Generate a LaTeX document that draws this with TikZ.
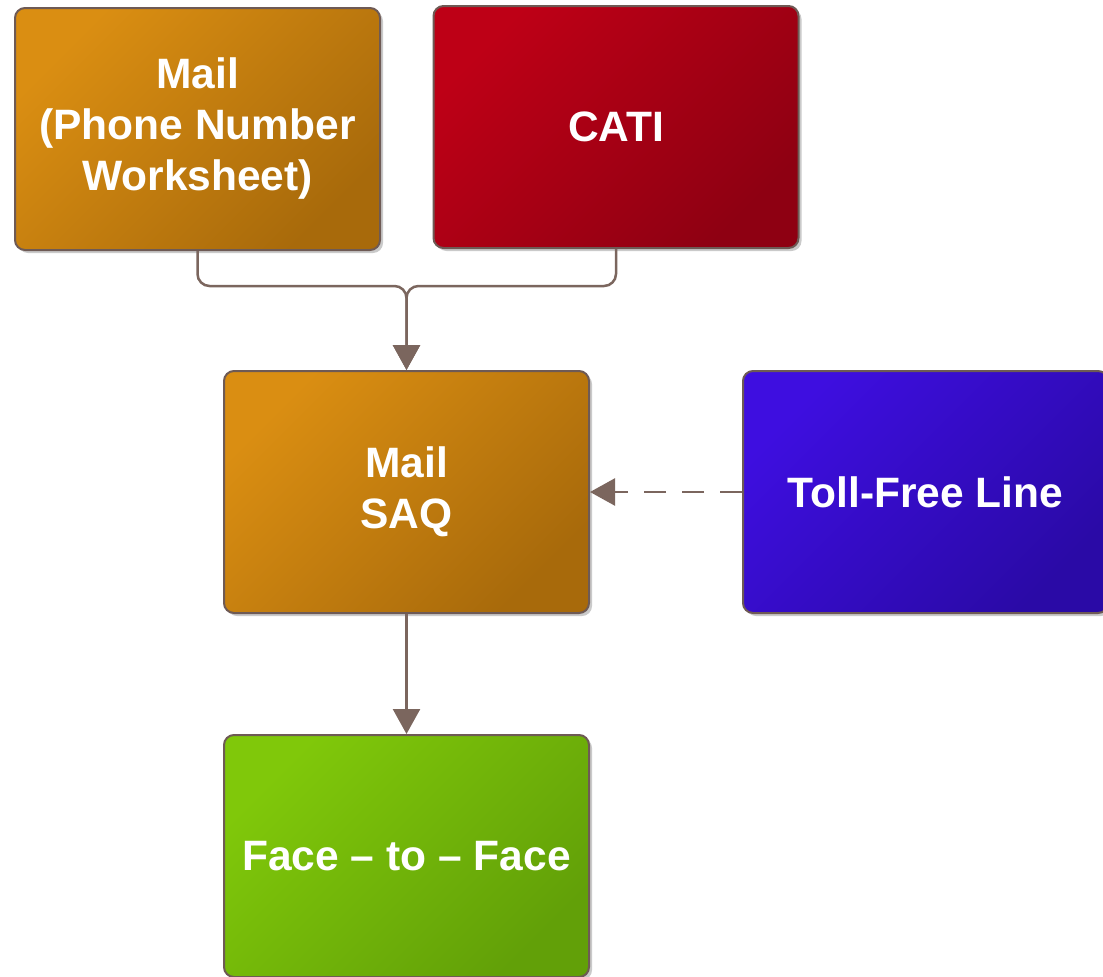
\documentclass[tikz,border=0pt]{standalone}
\usepackage{fontspec}
\setmainfont{Liberation Sans}
\usetikzlibrary{arrows.meta,shadows}
\definecolor{orL}{HTML}{DA8E12}
\definecolor{orD}{HTML}{A86A0B}
\definecolor{rdL}{HTML}{BE0016}
\definecolor{rdD}{HTML}{8E0012}
\definecolor{blL}{HTML}{3E0EE0}
\definecolor{blD}{HTML}{2A0AA6}
\definecolor{grL}{HTML}{80C80A}
\definecolor{grD}{HTML}{62A008}
\definecolor{edge}{HTML}{6E5A55}
\definecolor{conn}{HTML}{7B665E}
\tikzset{
  box/.style={rectangle, rounded corners=10pt, draw=edge, line width=2pt,
    minimum width=365pt, minimum height=242pt, align=center, text=white,
    font=\fontsize{42.5}{51}\selectfont\bfseries,
    drop shadow={shadow xshift=3pt, shadow yshift=-3pt, opacity=0.35, fill=black!60}},
  orbox/.style={box, top color=orL, bottom color=orD, shading angle=45},
  rdbox/.style={box, top color=rdL, bottom color=rdD, shading angle=45},
  blbox/.style={box, top color=blL, bottom color=blD, shading angle=45},
  grbox/.style={box, top color=grL, bottom color=grD, shading angle=45},
  link/.style={draw=conn, line width=2.5pt, -{Triangle[width=27pt,length=25pt]}},
}
\begin{document}
\begin{tikzpicture}[x=1pt,y=-1pt]
\useasboundingbox (0,0) rectangle (1103,977);
\node[orbox] (m1) at (197.5,129) {Mail\\(Phone Number\\Worksheet)};
\node[rdbox] (cati) at (616,127) {CATI};
\node[orbox] (saq) at (406.5,492) {Mail\\SAQ};
\node[blbox] (toll) at (925.5,492) {Toll-Free Line};
\node[grbox] (f2f) at (406.5,856) {Face -- to -- Face};
\coordinate (j) at (406.5,286);
\draw[link, rounded corners=12pt] (m1.south) |- (j) -- (saq.north);
\draw[link, rounded corners=12pt] (cati.south) |- (j) -- (saq.north);
\draw[link, dash pattern=on 22pt off 16pt] (toll.west) -- (saq.east);
\draw[link] (saq.south) -- (f2f.north);
\end{tikzpicture}
\end{document}
